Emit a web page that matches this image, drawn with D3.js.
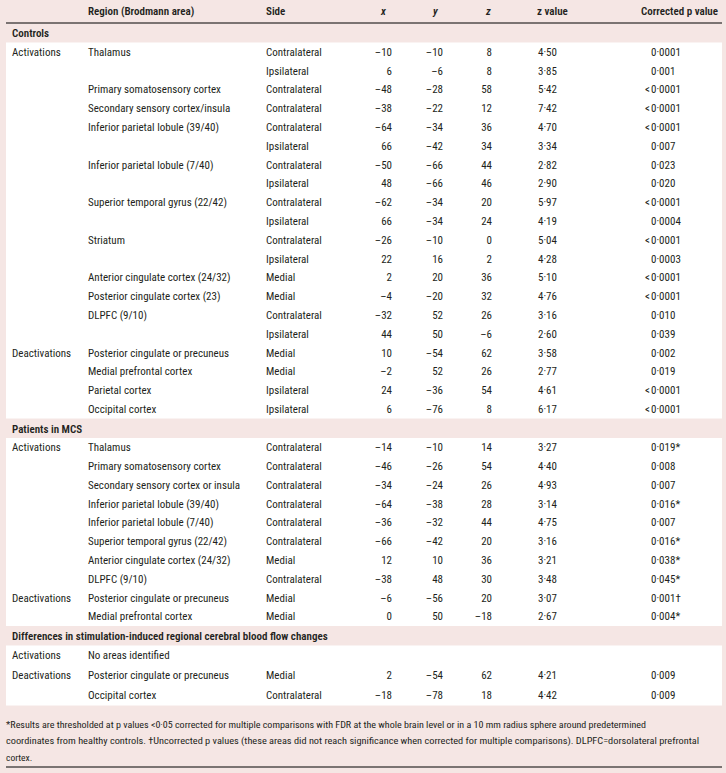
<!DOCTYPE html>
<html><head><meta charset="utf-8">
<script src="https://cdn.jsdelivr.net/npm/d3@7"></script>
<style>
body{margin:0;padding:0;background:#f5e6e4;}
svg{display:block;}
</style></head>
<body><div id="chart"></div>
<script>
// ---------- data ----------
const headerLabels = ["", "Region (Brodmann area)", "Side", "x", "y", "z", "z value", "Corrected p value"];
const sectionTitles = ["Controls", "Patients in MCS", "Differences in stimulation-induced regional cerebral blood flow changes"];

// [group, region, side, x, y, z, zValue, pValue]
const controlsRows = [
 ["Activations","Thalamus","Contralateral",-10,-10,8,"4·50","0·0001"],
 ["","","Ipsilateral",6,-6,8,"3·85","0·001"],
 ["","Primary somatosensory cortex","Contralateral",-48,-28,58,"5·42","<0·0001"],
 ["","Secondary sensory cortex/insula","Contralateral",-38,-22,12,"7·42","<0·0001"],
 ["","Inferior parietal lobule (39/40)","Contralateral",-64,-34,36,"4·70","<0·0001"],
 ["","","Ipsilateral",66,-42,34,"3·34","0·007"],
 ["","Inferior parietal lobule (7/40)","Contralateral",-50,-66,44,"2·82","0·023"],
 ["","","Ipsilateral",48,-66,46,"2·90","0·020"],
 ["","Superior temporal gyrus (22/42)","Contralateral",-62,-34,20,"5·97","<0·0001"],
 ["","","Ipsilateral",66,-34,24,"4·19","0·0004"],
 ["","Striatum","Contralateral",-26,-10,0,"5·04","<0·0001"],
 ["","","Ipsilateral",22,16,2,"4·28","0·0003"],
 ["","Anterior cingulate cortex (24/32)","Medial",2,20,36,"5·10","<0·0001"],
 ["","Posterior cingulate cortex (23)","Medial",-4,-20,32,"4·76","<0·0001"],
 ["","DLPFC (9/10)","Contralateral",-32,52,26,"3·16","0·010"],
 ["","","Ipsilateral",44,50,-6,"2·60","0·039"],
 ["Deactivations","Posterior cingulate or precuneus","Medial",10,-54,62,"3·58","0·002"],
 ["","Medial prefrontal cortex","Medial",-2,52,26,"2·77","0·019"],
 ["","Parietal cortex","Ipsilateral",24,-36,54,"4·61","<0·0001"],
 ["","Occipital cortex","Ipsilateral",6,-76,8,"6·17","<0·0001"]
];
const mcsRows = [
 ["Activations","Thalamus","Contralateral",-14,-10,14,"3·27","0·019*"],
 ["","Primary somatosensory cortex","Contralateral",-46,-26,54,"4·40","0·008"],
 ["","Secondary sensory cortex or insula","Contralateral",-34,-24,26,"4·93","0·007"],
 ["","Inferior parietal lobule (39/40)","Contralateral",-64,-38,28,"3·14","0·016*"],
 ["","Inferior parietal lobule (7/40)","Contralateral",-36,-32,44,"4·75","0·007"],
 ["","Superior temporal gyrus (22/42)","Contralateral",-66,-42,20,"3·16","0·016*"],
 ["","Anterior cingulate cortex (24/32)","Medial",12,10,36,"3·21","0·038*"],
 ["","DLPFC (9/10)","Contralateral",-38,48,30,"3·48","0·045*"],
 ["Deactivations","Posterior cingulate or precuneus","Medial",-6,-56,20,"3·07","0·001†"],
 ["","Medial prefrontal cortex","Medial",0,50,-18,"2·67","0·004*"]
];
const diffRows = [
 ["Activations","No areas identified","",null,null,null,"",""],
 ["Deactivations","Posterior cingulate or precuneus","Medial",2,-54,62,"4·21","0·009"],
 ["","Occipital cortex","Contralateral",-18,-78,18,"4·42","0·009"]
];
const footnoteLines = [
 "*Results are thresholded at p values <0·05 corrected for multiple comparisons with FDR at the whole brain level or in a 10 mm radius sphere around predetermined",
 "coordinates from healthy controls. †Uncorrected p values (these areas did not reach significance when corrected for multiple comparisons). DLPFC=dorsolateral prefrontal",
 "cortex."
];

// ---------- layout ----------
const W = 726, H = 773;
const PINK = "#f5e6e4", INK = "#231f20";
const FONT = "'Liberation Sans Narrow','Roboto Condensed','DejaVu Sans Condensed',Lato,sans-serif";
const left = 6, right = 722;
const headerLineY = 23;
const secH = 19.5;
const rowHeights = [18.8, 18.8, 20];

const svg = d3.select("#chart").append("svg").attr("width", W).attr("height", H);
svg.append("rect").attr("width", W).attr("height", H).attr("fill", PINK);

// column positions (ordinal scale over column keys)
const colKeys = ["group","region","side","x","y","z","zv","p"];
const colScale = d3.scaleOrdinal().domain(colKeys).range([12, 88, 266, 392, 443, 492, 538, 651]);
const headerX = d3.scaleOrdinal().domain(colKeys).range([12, 88, 266, 381, 433, 486, 537, 641]);

const fmtNum = v => v == null ? "" : (v < 0 ? "–" + Math.abs(v) : String(v));

// header row
svg.append("g").selectAll("text").data(headerLabels).join("text")
  .attr("x", (d,i) => headerX(colKeys[i]))
  .attr("y", 11).attr("dy", "0.35em")
  .attr("font-family", FONT).attr("font-size", 11).attr("font-weight", 600)
  .attr("font-style", (d,i) => (i>=3 && i<=5) ? "italic" : "normal")
  .attr("fill", INK).text(d => d);
svg.append("line").attr("x1", left).attr("x2", right).attr("y1", headerLineY).attr("y2", headerLineY)
  .attr("stroke", "#000").attr("stroke-width", 1);

const sections = [controlsRows, mcsRows, diffRows];
let cursor = headerLineY;
sections.forEach((rows, si) => {
  svg.append("text").attr("x", 12).attr("y", cursor + secH/2 + 0.5).attr("dy", "0.35em")
    .attr("font-family", FONT).attr("font-size", 11).attr("font-weight", 600)
    .attr("fill", INK).text(sectionTitles[si]);
  cursor += secH;
  const top = cursor, bottom = cursor + rows.length * rowHeights[si];
  const yScale = d3.scaleBand().domain(d3.range(rows.length)).range([top, bottom]);
  svg.append("rect").attr("x", left).attr("y", top).attr("width", right - left).attr("height", bottom - top).attr("fill", "#fff");
  const g = svg.append("g").attr("font-family", FONT).attr("font-size", 11).attr("fill", INK);
  const rowG = g.selectAll("g").data(rows).join("g")
    .attr("transform", (d,i) => `translate(0,${yScale(i) + yScale.bandwidth()/2})`);
  ["group","region","side"].forEach((k, ci) => {
    rowG.append("text").attr("x", colScale(k)).attr("dy", "0.35em").text(d => d[ci]);
  });
  ["x","y","z"].forEach((k, ci) => {
    rowG.append("text").attr("x", colScale(k)).attr("dy", "0.35em").attr("text-anchor", "end").text(d => fmtNum(d[3+ci]));
  });
  rowG.append("text").attr("x", colScale("zv")).attr("dy", "0.35em").text(d => d[6]);
  rowG.append("text").attr("x", colScale("p")).attr("dy", "0.35em")
    .text(d => d[7].startsWith("<") ? d[7].slice(1) : d[7]);
  rowG.filter(d => d[7].startsWith("<")).append("text").attr("x", colScale("p") - 1).attr("dy", "0.35em")
    .attr("text-anchor", "end").text("<");
  cursor = bottom;
});

// footnote
const footG = svg.append("g").attr("font-family", FONT).attr("font-size", 9.5).attr("fill", INK);
const footY = d3.scaleLinear().domain([0, 2]).range([cursor + 19, cursor + 52]);
const footWidths = [640, 693, null];
footG.selectAll("text").data(footnoteLines).join("text")
  .attr("x", 6).attr("y", (d,i) => footY(i)).attr("dy", "0.35em")
  .each(function(d,i){ if (footWidths[i]) { d3.select(this).attr("textLength", footWidths[i]).attr("lengthAdjust", "spacingAndGlyphs"); } })
  .text(d => d);
svg.append("line").attr("x1", left).attr("x2", right).attr("y1", 767).attr("y2", 767).attr("stroke", "#000").attr("stroke-width", 1);
</script>
</body></html>
